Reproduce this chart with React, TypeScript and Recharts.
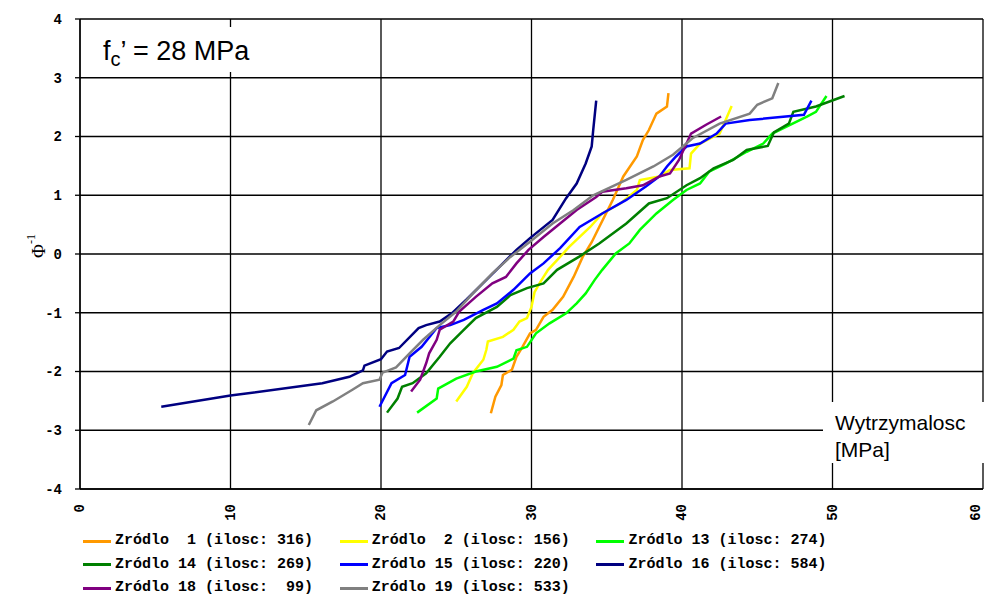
import { LineChart, Line, XAxis, YAxis, CartesianGrid } from "recharts";

type Pt = { x: number; y: number };

// wartosci: [wytrzymalosc MPa, Phi^-1]
const zrodlo1: Pt[] = [
  [27.3, -2.71], [27.6, -2.43], [28.0, -2.23], [28.1, -2.06], [28.7, -1.97],
  [29.0, -1.75], [29.4, -1.58], [29.9, -1.35], [30.3, -1.29], [30.8, -1.07],
  [31.4, -0.95], [32.1, -0.73], [32.8, -0.39], [33.4, -0.05], [34.0, 0.2],
  [34.5, 0.46], [35.4, 0.92], [36.1, 1.32], [37.0, 1.66], [37.4, 1.94],
  [37.8, 2.11], [38.3, 2.39], [39.0, 2.51], [39.1, 2.74],
].map(([x, y]) => ({ x, y }));

const zrodlo2: Pt[] = [
  [25.0, -2.51], [25.7, -2.26], [26.1, -2.03], [26.8, -1.8], [27.0, -1.63],
  [27.1, -1.49], [28.1, -1.41], [28.8, -1.29], [29.2, -1.15], [29.7, -1.09],
  [30.0, -0.9], [30.2, -0.65], [30.6, -0.47], [31.1, -0.27], [31.9, -0.05],
  [32.5, 0.12], [33.2, 0.29], [33.9, 0.46], [34.7, 0.69], [35.9, 0.86],
  [37.0, 1.09], [37.2, 1.26], [38.5, 1.32], [39.2, 1.43], [40.5, 1.46],
  [40.6, 1.71], [41.2, 1.88], [42.5, 2.05], [42.9, 2.28], [43.3, 2.52],
].map(([x, y]) => ({ x, y }));

const zrodlo13: Pt[] = [
  [22.4, -2.7], [23.7, -2.46], [23.8, -2.29], [25.0, -2.12], [26.3, -2.0],
  [27.7, -1.92], [28.8, -1.78], [29.0, -1.64], [29.7, -1.58], [30.3, -1.35],
  [31.2, -1.18], [32.3, -1.01], [33.0, -0.84], [33.6, -0.67], [34.2, -0.44],
  [34.7, -0.27], [35.6, 0.01], [36.5, 0.18], [37.2, 0.41], [38.3, 0.69],
  [39.4, 0.92], [40.3, 1.09], [41.2, 1.2], [41.8, 1.4], [42.9, 1.54],
  [44.3, 1.74], [45.4, 1.88], [46.0, 2.05], [48.3, 2.34], [48.9, 2.42],
  [49.6, 2.69],
].map(([x, y]) => ({ x, y }));

const zrodlo14: Pt[] = [
  [20.4, -2.7], [21.1, -2.46], [21.4, -2.26], [22.1, -2.2], [23.0, -2.03],
  [23.9, -1.75], [24.6, -1.52], [25.5, -1.29], [26.3, -1.09], [27.7, -0.9],
  [28.6, -0.7], [29.7, -0.58], [30.8, -0.5], [31.7, -0.27], [33.2, -0.04],
  [34.5, 0.18], [36.3, 0.52], [37.8, 0.86], [39.0, 0.95], [40.3, 1.17],
  [41.2, 1.29], [42.1, 1.46], [43.4, 1.6], [44.3, 1.77], [45.7, 1.84],
  [46.1, 2.07], [47.1, 2.22], [47.4, 2.42], [48.9, 2.51], [50.8, 2.69],
].map(([x, y]) => ({ x, y }));

const zrodlo15: Pt[] = [
  [19.9, -2.6], [20.7, -2.2], [21.6, -2.06], [21.9, -1.75], [22.7, -1.58],
  [23.7, -1.26], [24.6, -1.21], [25.5, -1.12], [26.8, -0.95], [27.7, -0.84],
  [28.8, -0.61], [29.9, -0.33], [30.8, -0.16], [31.9, 0.1], [33.2, 0.46],
  [34.7, 0.69], [36.3, 0.92], [37.6, 1.15], [38.5, 1.32], [39.0, 1.49],
  [39.6, 1.66], [40.3, 1.83], [41.2, 1.88], [42.3, 2.05], [42.9, 2.22],
  [44.5, 2.28], [48.1, 2.37], [48.6, 2.61],
].map(([x, y]) => ({ x, y }));

const zrodlo16: Pt[] = [
  [5.4, -2.6], [10.0, -2.41], [16.1, -2.2], [17.9, -2.09], [18.8, -1.98],
  [18.9, -1.9], [20.0, -1.79], [20.4, -1.66], [21.2, -1.6], [22.5, -1.26],
  [23.0, -1.21], [23.9, -1.15], [24.7, -1.01], [25.7, -0.77], [27.0, -0.44],
  [28.1, -0.16], [29.0, 0.07], [29.9, 0.27], [31.4, 0.58], [32.3, 0.95],
  [33.0, 1.2], [33.6, 1.54], [34.0, 1.83], [34.1, 2.11], [34.3, 2.61],
].map(([x, y]) => ({ x, y }));

const zrodlo18: Pt[] = [
  [22.0, -2.34], [22.6, -2.14], [23.0, -1.86], [23.2, -1.69], [23.7, -1.46],
  [23.9, -1.29], [24.8, -1.15], [25.2, -0.98], [26.3, -0.73], [27.4, -0.5],
  [28.3, -0.39], [29.0, -0.16], [29.8, 0.07], [30.8, 0.29], [31.9, 0.52],
  [33.0, 0.75], [34.3, 0.97], [34.7, 1.06], [36.3, 1.12], [37.4, 1.17],
  [38.5, 1.32], [39.2, 1.37], [39.8, 1.6], [40.3, 1.88], [40.6, 2.05],
  [41.6, 2.2], [42.6, 2.34],
].map(([x, y]) => ({ x, y }));

const zrodlo19: Pt[] = [
  [15.2, -2.91], [15.7, -2.66], [16.8, -2.51], [18.1, -2.31], [18.8, -2.2],
  [19.9, -2.14], [20.1, -2.02], [21.0, -1.93], [21.9, -1.69], [22.8, -1.46],
  [23.9, -1.21], [25.0, -0.98], [26.1, -0.67], [27.4, -0.33], [28.6, -0.05],
  [29.9, 0.21], [31.4, 0.52], [32.8, 0.75], [34.1, 1.0], [36.3, 1.26],
  [38.1, 1.49], [39.4, 1.69], [40.7, 1.97], [42.5, 2.22], [44.5, 2.39],
  [45.0, 2.54], [46.0, 2.65], [46.4, 2.91],
].map(([x, y]) => ({ x, y }));

const seriesNames = [
  "Zródlo  1 (ilosc: 316)",
  "Zródlo  2 (ilosc: 156)",
  "Zródlo 13 (ilosc: 274)",
  "Zródlo 14 (ilosc: 269)",
  "Zródlo 15 (ilosc: 220)",
  "Zródlo 16 (ilosc: 584)",
  "Zródlo 18 (ilosc:  99)",
  "Zródlo 19 (ilosc: 533)",
];
const seriesColors = [
  "#FF9900",
  "#FFFF00",
  "#00FF00",
  "#008000",
  "#0000FF",
  "#000080",
  "#800080",
  "#808080",
];
const seriesData = [
  zrodlo1, zrodlo2, zrodlo13, zrodlo14, zrodlo15, zrodlo16, zrodlo18, zrodlo19,
];

const xTicks = [0, 10, 20, 30, 40, 50, 60];
const yTicks = [-4, -3, -2, -1, 0, 1, 2, 3, 4];

const mono = "'Liberation Mono', 'Courier New', monospace";
const sans = "'Liberation Sans', Arial, sans-serif";

const XTick = (props: any) => {
  const { x, y, payload } = props;
  return (
    <text
      x={x}
      y={y}
      transform={`rotate(-90 ${x} ${y})`}
      textAnchor="end"
      dominantBaseline="central"
      fontFamily={mono}
      fontWeight="bold"
      fontSize={14}
      fill="#000"
    >
      {payload.value}
    </text>
  );
};

const PhiLabel = ({ viewBox }: any) => {
  const cx = 30;
  const cy = viewBox.y + viewBox.height / 2 - 8;
  return (
    <text
      x={cx}
      y={cy}
      transform={`rotate(-90 ${cx} ${cy})`}
      textAnchor="middle"
      dominantBaseline="central"
      fontFamily="'Liberation Serif', serif"
      fontSize={19}
      fill="#000"
    >
      Φ
      <tspan fontSize={12} dy={-7}>
        -1
      </tspan>
    </text>
  );
};

export default function App() {
  return (
    <div style={{ position: "relative", width: 976, height: 591 }}>
      <LineChart
        width={976}
        height={583}
        margin={{ top: 11, right: 1, bottom: 0, left: 0 }}
      >
        <CartesianGrid stroke="#000" strokeWidth={1.3} />
        <XAxis
          type="number"
          dataKey="x"
          domain={[0, 60]}
          ticks={xTicks}
          allowDataOverflow
          height={102}
          tickSize={0}
          tickMargin={15}
          tickLine={false}
          axisLine={{ stroke: "#000", strokeWidth: 1.3 }}
          tick={<XTick />}
        />
        <YAxis
          type="number"
          dataKey="y"
          domain={[-4, 4]}
          ticks={yTicks}
          allowDataOverflow
          width={72}
          tickSize={5}
          tickMargin={13}
          tickLine={{ stroke: "#000", strokeWidth: 1.3 }}
          axisLine={{ stroke: "#000", strokeWidth: 1.3 }}
          tick={{
            fill: "#000",
            fontFamily: mono,
            fontWeight: "bold",
            fontSize: 14,
          }}
          label={PhiLabel}
        />
        {seriesData.map((d, i) => (
          <Line
            key={seriesNames[i]}
            data={d}
            dataKey="y"
            name={seriesNames[i]}
            stroke={seriesColors[i]}
            strokeWidth={2.5}
            dot={false}
            activeDot={false}
            type="linear"
            isAnimationActive={false}
          />
        ))}
      </LineChart>

      {/* tytul */}
      <div
        style={{
          position: "absolute",
          left: 87,
          top: 19,
          width: 170,
          height: 45,
          background: "#fff",
          fontFamily: sans,
          fontSize: 27,
          lineHeight: "27px",
        }}
      >
        <div style={{ position: "absolute", left: 8, top: 11, whiteSpace: "pre" }}>
          f
          <sub style={{ fontSize: 20, lineHeight: 0, verticalAlign: -6 }}>c</sub>
          {"’ = 28 MPa"}
        </div>
      </div>

      {/* opis osi x */}
      <div
        style={{
          position: "absolute",
          left: 815,
          top: 394,
          width: 162,
          height: 61,
          background: "#fff",
          fontFamily: sans,
          fontSize: 21,
          lineHeight: "27px",
        }}
      >
        <div style={{ position: "absolute", left: 12, top: 7 }}>
          Wytrzymalosc
          <br />
          [MPa]
        </div>
      </div>

      {/* legenda */}
      {seriesNames.map((n, i) => (
        <div
          key={n}
          style={{
            position: "absolute",
            left: 75 + (i % 3) * 256.7,
            top: 524 + Math.floor(i / 3) * 23.5,
            display: "flex",
            alignItems: "center",
            height: 18,
            lineHeight: "18px",
            whiteSpace: "pre",
            fontFamily: mono,
            fontWeight: "bold",
            fontSize: 15,
          }}
        >
          <span
            style={{
              display: "inline-block",
              width: 28,
              height: 3,
              background: seriesColors[i],
              marginRight: 4,
            }}
          />
          {n}
        </div>
      ))}
    </div>
  );
}
